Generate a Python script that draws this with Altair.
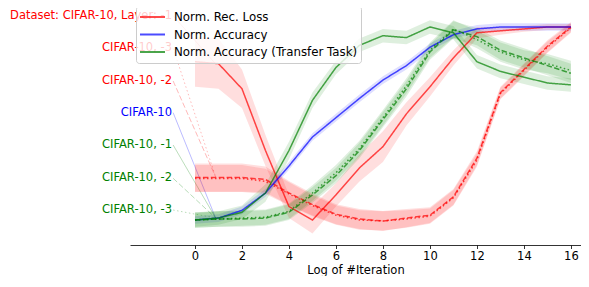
import altair as alt
import pandas as pd

# ---------------- data (normalised values) ----------------
x_iter = list(range(17))

rec_l1 = [0.82, 0.81, 0.68, 0.36, 0.07, 0.00, 0.13, 0.27, 0.38, 0.55, 0.69, 0.84, 0.97, 0.98, 0.99, 1.00, 1.00]
rec_l1_err = [0.13, 0.13, 0.10, 0.08, 0.06, 0.07, 0.06, 0.07, 0.08, 0.06, 0.05, 0.04, 0.03, 0.02, 0.015, 0.015, 0.015]

rec_l2 = [0.22, 0.22, 0.22, 0.21, 0.14, 0.08, 0.03, 0.005, -0.005, 0.01, 0.025, 0.12, 0.32, 0.66, 0.78, 0.90, 1.00]
rec_l2_err = [0.073, 0.073, 0.073, 0.067, 0.062, 0.057, 0.052, 0.052, 0.052, 0.047, 0.041, 0.041, 0.036, 0.031, 0.031, 0.031, 0.026]

rec_l3 = [0.215, 0.215, 0.215, 0.20, 0.135, 0.075, 0.025, 0.0, -0.005, 0.005, 0.02, 0.115, 0.31, 0.655, 0.775, 0.895, 0.995]
rec_l3_err = [0.07, 0.07, 0.07, 0.065, 0.06, 0.055, 0.05, 0.05, 0.05, 0.045, 0.04, 0.04, 0.034, 0.03, 0.03, 0.03, 0.025]

acc = [0.00, 0.01, 0.05, 0.14, 0.28, 0.43, 0.53, 0.63, 0.725, 0.80, 0.895, 0.96, 0.99, 1.0, 1.0, 1.0, 1.0]
acc_err = [0.02] * 17

tr_l1 = [0.00, 0.01, 0.04, 0.14, 0.36, 0.62, 0.79, 0.905, 0.955, 0.945, 1.0, 0.97, 0.82, 0.77, 0.74, 0.71, 0.70]
tr_l1_err = [0.035, 0.035, 0.035, 0.045, 0.045, 0.04, 0.035, 0.035, 0.035, 0.035, 0.035, 0.035, 0.035, 0.035, 0.035, 0.035, 0.035]

tr_l2 = [0.00, 0.005, 0.005, 0.01, 0.04, 0.13, 0.23, 0.36, 0.52, 0.68, 0.87, 0.985, 0.95, 0.88, 0.84, 0.80, 0.76]
tr_l2_err = [0.04, 0.04, 0.04, 0.04, 0.04, 0.04, 0.04, 0.04, 0.04, 0.04, 0.04, 0.045, 0.045, 0.05, 0.05, 0.05, 0.05]

tr_l3 = [0.00, 0.005, 0.01, 0.015, 0.045, 0.14, 0.245, 0.37, 0.53, 0.695, 0.88, 0.99, 0.935, 0.87, 0.83, 0.81, 0.775]
tr_l3_err = [0.04, 0.04, 0.04, 0.04, 0.04, 0.04, 0.04, 0.04, 0.04, 0.04, 0.04, 0.045, 0.045, 0.05, 0.05, 0.05, 0.05]

metric_names = ["Norm. Rec. Loss", "Norm. Accuracy", "Norm. Accuracy (Transfer Task)"]
metric_colors = ["#ff0000", "#0000ff", "#008000"]
layer_names = ["-1", "-2", "-3"]

label_texts = ["Dataset: CIFAR-10, Layer: -1", "CIFAR-10, -3", "CIFAR-10, -2", "CIFAR-10",
               "CIFAR-10, -1", "CIFAR-10, -2", "CIFAR-10, -3"]
label_metric = [metric_names[0], metric_names[0], metric_names[0], metric_names[1],
                metric_names[2], metric_names[2], metric_names[2]]
label_layer = ["-1", "-3", "-2", "-1", "-1", "-2", "-3"]
label_y = [1.0585, 0.8896, 0.7202, 0.5560, 0.3886, 0.2161, 0.0518]
label_target_y = [0.808, 0.223, 0.223, 0.0104, 0.0104, 0.0104, 0.0104]
label_x = -0.98
label_line_x = -0.93
label_target_x = 0.88

FONT = "DejaVu Sans"
FS = 11.5
LFS = 11.8

# ---------------- tables ----------------
series = [
    (metric_names[0], "-1", rec_l1, rec_l1_err),
    (metric_names[0], "-2", rec_l2, rec_l2_err),
    (metric_names[0], "-3", rec_l3, rec_l3_err),
    (metric_names[1], "-1", acc, acc_err),
    (metric_names[2], "-1", tr_l1, tr_l1_err),
    (metric_names[2], "-2", tr_l2, tr_l2_err),
    (metric_names[2], "-3", tr_l3, tr_l3_err),
]
rows = []
for m, l, ys, es in series:
    for xi, yv, ev in zip(x_iter, ys, es):
        rows.append(dict(x=xi, y=yv, lo=yv - ev, hi=yv + ev, metric=m, layer=l, key=m + l))
df = pd.DataFrame(rows)

lab = pd.DataFrame(dict(text=label_texts, metric=label_metric, layer=label_layer,
                        y=label_y, ty=label_target_y))
lab["x"] = label_x
lab["lx"] = label_line_x
lab["tx"] = label_target_x

xscale = alt.Scale(domain=[-2.766, 16.43], nice=False, zero=False)
yscale = alt.Scale(domain=[-0.1295, 1.088], nice=False, zero=False)


def cscale():
    return alt.Scale(domain=metric_names, range=metric_colors)


def dscale():
    return alt.Scale(domain=layer_names, range=[[1, 0], [5.5, 2.4], [1.5, 2.5]])


xaxis = alt.Axis(values=list(range(0, 17, 2)), grid=False, title="Log of #Iteration",
                 labelFont=FONT, labelFontSize=FS, labelColor="#000000", labelPadding=2,
                 tickColor="#000000", tickSize=3.5, tickWidth=0.8,
                 domainColor="#000000", domainWidth=0.8,
                 titleFont=FONT, titleFontSize=FS, titleFontWeight="normal",
                 titleColor="#000000", titlePadding=2)

X = alt.X("x:Q", scale=xscale, axis=xaxis)

rules = alt.Chart(lab).mark_rule(strokeWidth=1, opacity=0.28).encode(
    x=alt.X("lx:Q", scale=xscale, axis=xaxis),
    y=alt.Y("y:Q", scale=yscale, axis=None),
    x2="tx:Q",
    y2="ty:Q",
    color=alt.Color("metric:N", scale=cscale(), legend=None),
    strokeDash=alt.StrokeDash("layer:N", scale=dscale(), legend=None),
)

bands = alt.Chart(df).mark_area(opacity=0.13).encode(
    x=X,
    y=alt.Y("lo:Q", scale=yscale, axis=None),
    y2="hi:Q",
    color=alt.Color("metric:N", scale=cscale(), legend=None),
    detail="key:N",
)

lines = alt.Chart(df).mark_line(strokeWidth=1.5, opacity=0.7).encode(
    x=X,
    y=alt.Y("y:Q", scale=yscale, axis=None),
    color=alt.Color("metric:N", scale=cscale(), title=None,
                    legend=alt.Legend(orient="none", legendX=6, legendY=-4,
                                      symbolType="stroke", symbolSize=625, symbolStrokeWidth=2,
                                      clipHeight=16, rowPadding=1.5, padding=3,
                                      labelFont=FONT, labelFontSize=LFS, labelColor="#000000",
                                      labelOffset=8, labelLimit=400,
                                      strokeColor="#cccccc", fillColor="rgba(255,255,255,0.8)",
                                      cornerRadius=3)),
    strokeDash=alt.StrokeDash("layer:N", scale=dscale(), legend=None),
    detail="key:N",
)

texts = alt.Chart(lab).mark_text(align="right", baseline="middle", font=FONT, fontSize=FS).encode(
    x=alt.X("x:Q", scale=xscale, axis=xaxis),
    y=alt.Y("y:Q", scale=yscale, axis=None),
    text="text:N",
    color=alt.Color("metric:N", scale=cscale(), legend=None),
)

chart = alt.layer(rules, bands, lines, texts).resolve_scale(
    color="independent", strokeDash="independent"
).resolve_legend(color="independent", strokeDash="independent").properties(
    width=451, height=235,
    autosize=alt.AutoSizeParams(type="none"),
    padding={"left": 122, "top": 2, "right": 0, "bottom": 31},
).configure_view(stroke=None)

chart.save("out.html", embed_options={"renderer": "svg", "actions": False})
